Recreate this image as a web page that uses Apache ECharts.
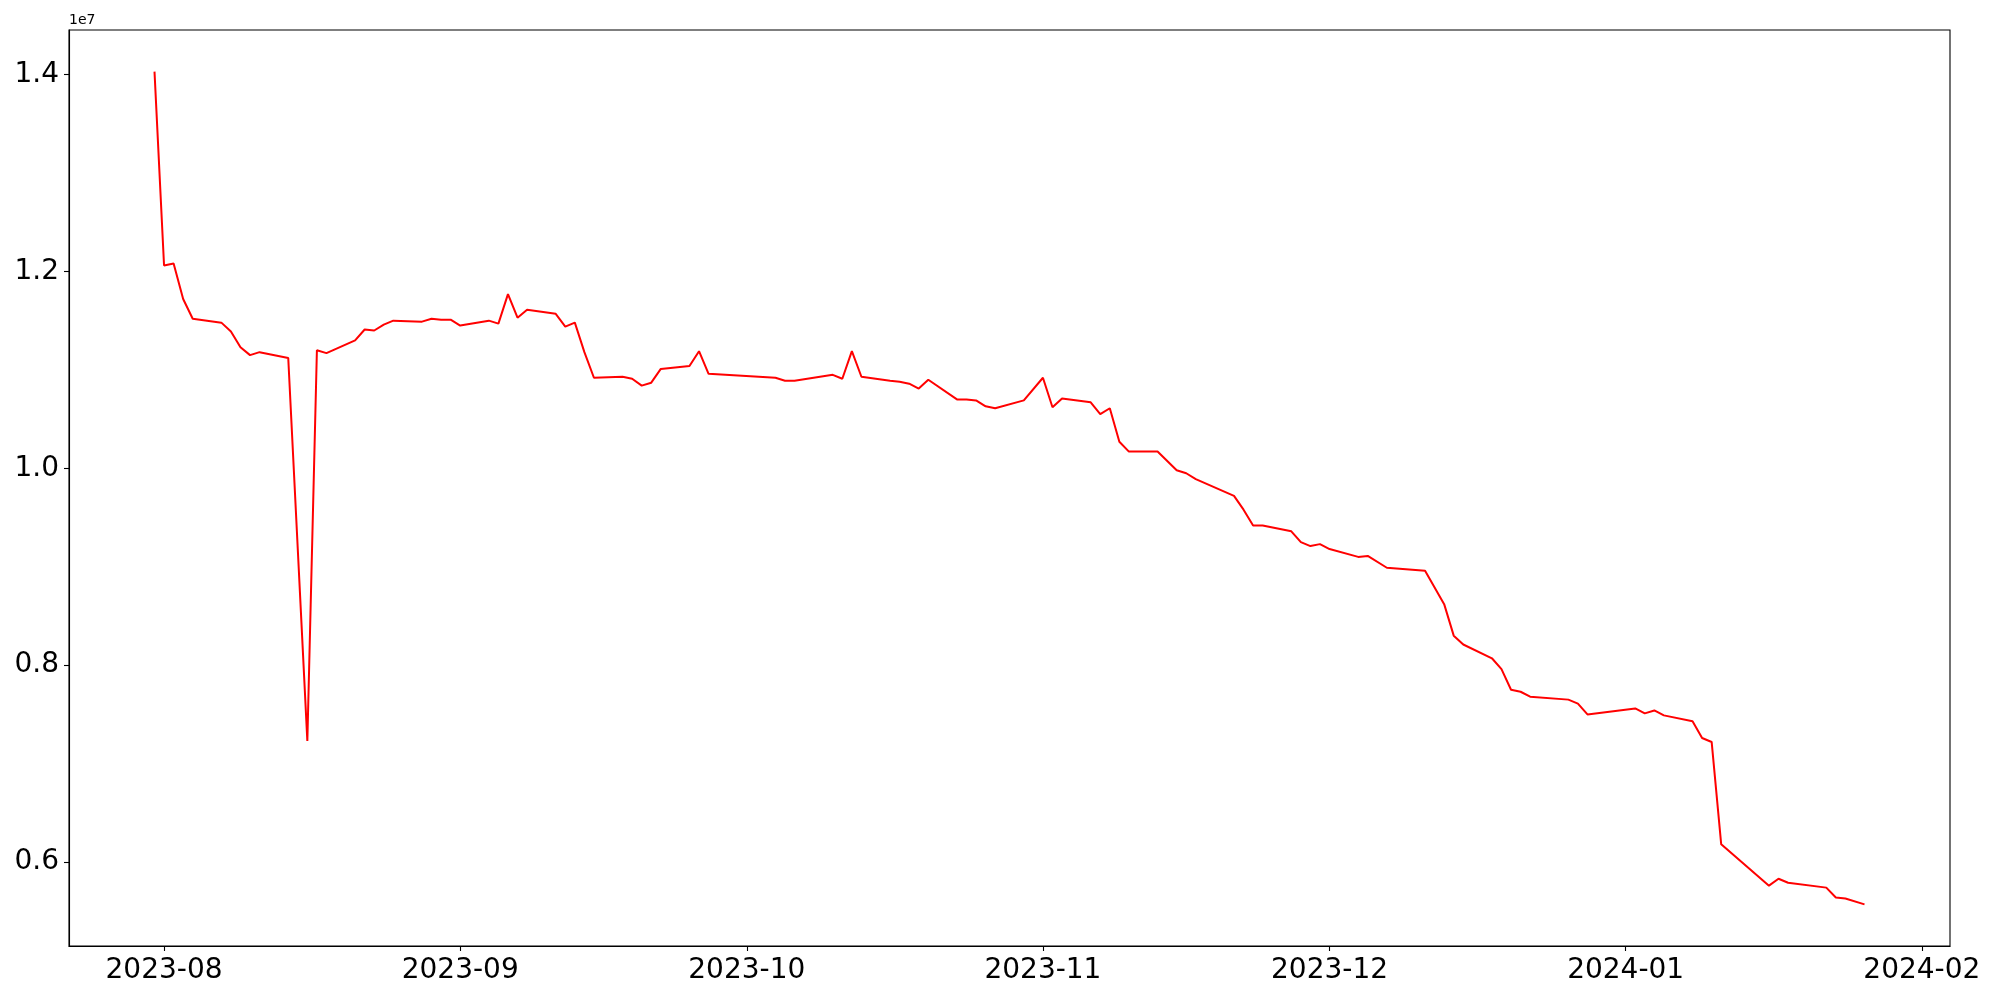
<!DOCTYPE html>
<html>
<head>
<meta charset="utf-8">
<title>Daily series</title>
<script src="https://cdn.jsdelivr.net/npm/echarts@6/dist/echarts.min.js"></script>
<style>
  html, body { margin: 0; padding: 0; background: #fff; }
  #chart { width: 2000px; height: 1000px; }
</style>
</head>
<body>
<div id="chart"></div>
<script>
// dates
const dates = [
  "2023-07-31", "2023-08-01", "2023-08-02", "2023-08-03", "2023-08-04",
  "2023-08-07", "2023-08-08", "2023-08-09", "2023-08-10", "2023-08-11",
  "2023-08-14", "2023-08-16", "2023-08-17", "2023-08-18",
  "2023-08-21", "2023-08-22", "2023-08-23", "2023-08-24", "2023-08-25",
  "2023-08-28", "2023-08-29", "2023-08-30", "2023-08-31", "2023-09-01",
  "2023-09-04", "2023-09-05", "2023-09-06", "2023-09-07", "2023-09-08",
  "2023-09-11", "2023-09-12", "2023-09-13", "2023-09-14", "2023-09-15",
  "2023-09-18", "2023-09-19", "2023-09-20", "2023-09-21", "2023-09-22",
  "2023-09-25", "2023-09-26", "2023-09-27",
  "2023-10-04", "2023-10-05", "2023-10-06",
  "2023-10-10", "2023-10-11", "2023-10-12", "2023-10-13",
  "2023-10-16", "2023-10-17", "2023-10-18", "2023-10-19", "2023-10-20",
  "2023-10-23", "2023-10-24", "2023-10-25", "2023-10-26", "2023-10-27",
  "2023-10-30", "2023-11-01", "2023-11-02", "2023-11-03",
  "2023-11-06", "2023-11-07", "2023-11-08", "2023-11-09", "2023-11-10",
  "2023-11-13", "2023-11-15", "2023-11-16", "2023-11-17",
  "2023-11-21", "2023-11-22", "2023-11-23", "2023-11-24",
  "2023-11-27", "2023-11-28", "2023-11-29", "2023-11-30", "2023-12-01",
  "2023-12-04", "2023-12-05", "2023-12-07",
  "2023-12-11", "2023-12-13", "2023-12-14", "2023-12-15",
  "2023-12-18", "2023-12-19", "2023-12-20", "2023-12-21", "2023-12-22",
  "2023-12-26", "2023-12-27", "2023-12-28",
  "2024-01-02", "2024-01-03", "2024-01-04", "2024-01-05",
  "2024-01-08", "2024-01-09", "2024-01-10", "2024-01-11",
  "2024-01-16", "2024-01-17", "2024-01-18",
  "2024-01-22", "2024-01-23", "2024-01-24", "2024-01-26"
];

const values = [
  14030000, 12060000, 12080000, 11720000, 11520000,
  11480000, 11390000, 11230000, 11150000, 11180000,
  11120000, 7230000, 11200000, 11170000,
  11300000, 11410000, 11400000, 11460000, 11500000,
  11490000, 11520000, 11510000, 11510000, 11450000,
  11500000, 11470000, 11770000, 11530000, 11610000,
  11570000, 11440000, 11480000, 11180000, 10920000,
  10930000, 10910000, 10840000, 10870000, 11010000,
  11040000, 11190000, 10960000,
  10920000, 10890000, 10890000,
  10950000, 10910000, 11190000, 10930000,
  10890000, 10880000, 10860000, 10810000, 10900000,
  10700000, 10700000, 10690000, 10630000, 10610000,
  10690000, 10920000, 10620000, 10710000,
  10670000, 10550000, 10610000, 10270000, 10170000,
  10170000, 9980000, 9950000, 9890000,
  9720000, 9580000, 9420000, 9420000,
  9360000, 9250000, 9210000, 9230000, 9180000,
  9100000, 9110000, 8990000,
  8960000, 8620000, 8300000, 8210000,
  8070000, 7960000, 7750000, 7730000, 7680000,
  7650000, 7610000, 7500000,
  7560000, 7510000, 7540000, 7490000,
  7430000, 7260000, 7220000, 6180000,
  5760000, 5830000, 5790000,
  5740000, 5640000, 5630000, 5570000
];

const xTicks = ["2023-08-01", "2023-09-01", "2023-10-01", "2023-11-01", "2023-12-01", "2024-01-01", "2024-02-01"];
const yTicks = [6000000, 8000000, 10000000, 12000000, 14000000];

const parseDay = (s) => {
  const [y, m, d] = s.split("-").map(Number);
  return new Date(y, m - 1, d).getTime();
};
const pad = (n) => (n < 10 ? "0" + n : "" + n);

const seriesData = dates.map((d, i) => [parseDay(d), values[i]]);

// matplotlib-style 5% margins
const xFirst = parseDay(dates[0]);
const xLast = parseDay(dates[dates.length - 1]);
const xPad = (xLast - xFirst) * 0.05;
const yLo = Math.min(...values);
const yHi = Math.max(...values);
const yPad = (yHi - yLo) * 0.05;

const font = "DejaVu Sans";
const chart = echarts.init(document.getElementById("chart"), null, { renderer: "canvas" });

const option = {
  animation: false,
  backgroundColor: "#fff",
  grid: {
    left: 69,
    right: 50,
    top: 30,
    bottom: 54,
    show: true,
    borderColor: "#000",
    borderWidth: 1.1,
  },
  graphic: [
    {
      type: "text",
      left: 69,
      top: 13,
      style: { text: "1e7", fill: "#000", font: "14px 'DejaVu Sans'" },
    },
  ],
  xAxis: {
    // timestamps on a plain value axis so the month ticks can be placed exactly
    type: "value",
    min: xFirst - xPad,
    max: xLast + xPad,
    splitLine: { show: false },
    axisLine: { show: true, onZero: false, lineStyle: { color: "#000", width: 1.1 } },
    axisTick: {
      show: true,
      length: 5,
      lineStyle: { color: "#000", width: 1.1 },
      customValues: xTicks.map(parseDay),
    },
    axisLabel: {
      color: "#000",
      fontFamily: font,
      fontSize: 28,
      margin: 11,
      customValues: xTicks.map(parseDay),
      formatter: (v) => {
        const d = new Date(v);
        return d.getFullYear() + "-" + pad(d.getMonth() + 1);
      },
    },
  },
  yAxis: {
    type: "value",
    min: yLo - yPad,
    max: yHi + yPad,
    splitLine: { show: false },
    axisLine: { show: true, onZero: false, lineStyle: { color: "#000", width: 1.1 } },
    axisTick: {
      show: true,
      length: 5,
      lineStyle: { color: "#000", width: 1.1 },
      customValues: yTicks,
    },
    axisLabel: {
      color: "#000",
      fontFamily: font,
      fontSize: 28,
      margin: 10,
      customValues: yTicks,
      formatter: (v) => (v / 1e7).toFixed(1),
    },
  },
  series: [
    {
      type: "line",
      data: seriesData,
      showSymbol: false,
      symbol: "none",
      lineStyle: { color: "#ff0000", width: 2 },
      itemStyle: { color: "#ff0000" },
    },
  ],
};

chart.setOption(option);
</script>
</body>
</html>
